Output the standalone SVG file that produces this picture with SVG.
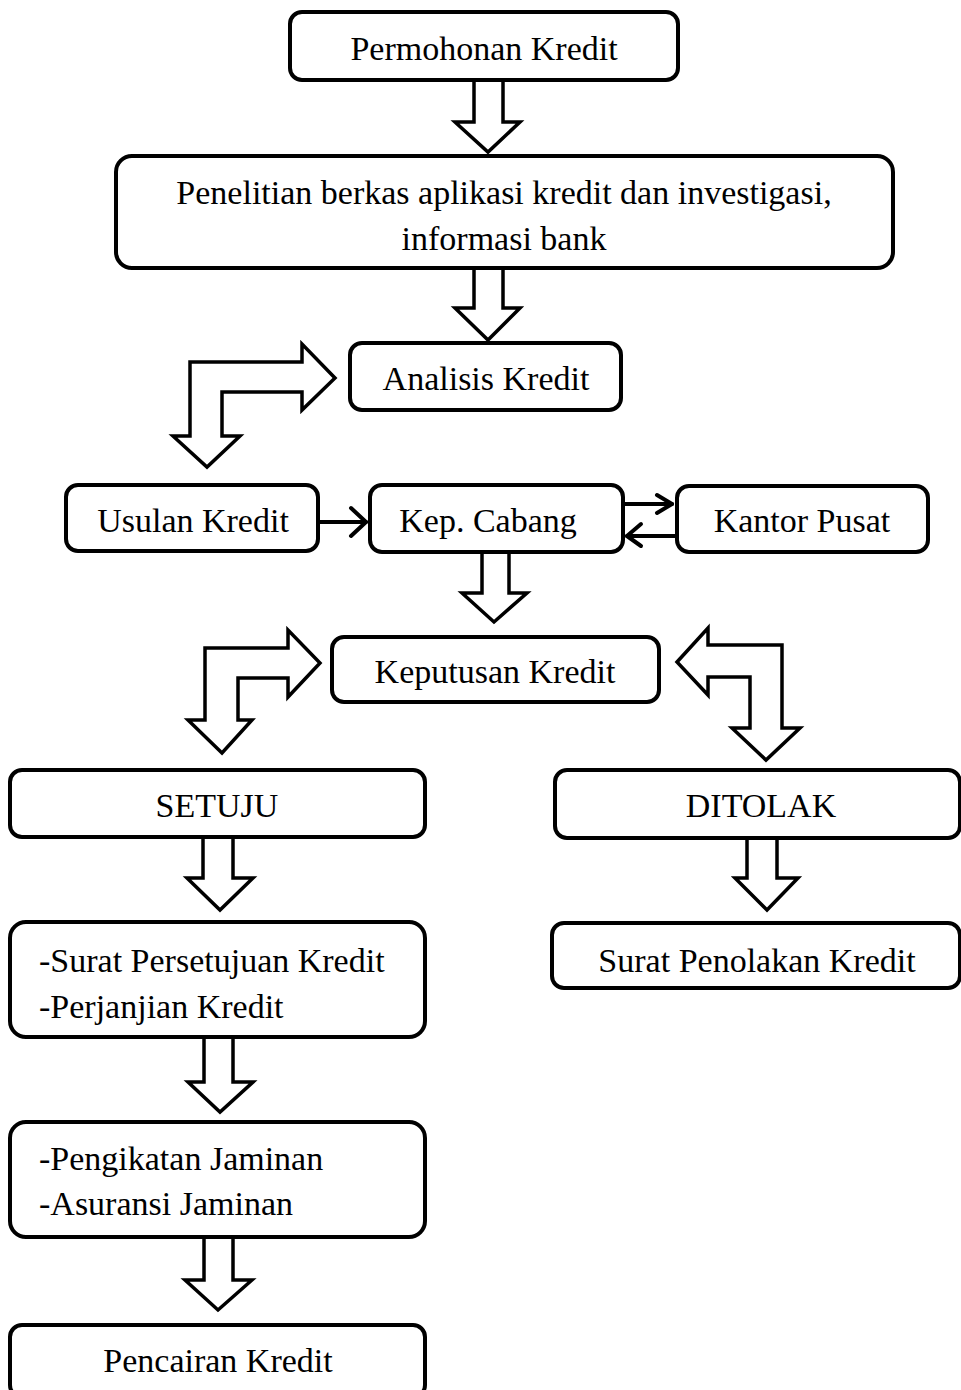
<svg xmlns="http://www.w3.org/2000/svg" width="961" height="1390" viewBox="0 0 961 1390">
<style>
.box{fill:#fff;stroke:#000;stroke-width:4}
.t{font-family:"Liberation Serif","Times New Roman",serif;font-size:34px;fill:#000}
.c{text-anchor:middle}
.blk{fill:#fff;stroke:#000;stroke-width:3.5;stroke-linejoin:miter}
.ln{fill:none;stroke:#000;stroke-width:4;stroke-linecap:round;stroke-linejoin:round}
</style>
<rect width="961" height="1390" fill="#fff"/>
<g id="connectors">
<polygon class="blk" points="474,80 503,80 503,122 520,122 488,152 455,122 474,122"/>
<polygon class="blk" points="474,268 503,268 503,308 520,308 488,340 455,308 474,308"/>
<polygon class="blk" points="190,362 302,362 302,344 335,378 302,410 302,392 222,392 222,436 240,436 207,467 173,436 190,436"/>
<polygon class="blk" points="482,552 509,552 509,593 527,593 494,622 462,593 482,593"/>
<polygon class="blk" points="205,648 288,648 288,630 320,663 288,697 288,678 238,678 238,720 252,720 222,753 188,720 205,720"/>
<polygon class="blk" points="677,662 708,628 708,645 782,645 782,728 800,728 766,760 732,728 750,728 750,677 708,677 708,695"/>
<polygon class="blk" points="203,837 233,837 233,878 253,878 220,910 187,878 203,878"/>
<polygon class="blk" points="747,838 777,838 777,878 798,878 767,910 735,878 747,878"/>
<polygon class="blk" points="204,1037 233,1037 233,1082 253,1082 220,1112 188,1082 204,1082"/>
<polygon class="blk" points="204,1237 233,1237 233,1280 252,1280 218,1310 185,1280 204,1280"/>
<line class="ln" x1="318" y1="522" x2="366" y2="522"/>
<polyline class="ln" points="351,508 366,522 351,536"/>
<line class="ln" x1="623" y1="504" x2="672" y2="504"/>
<polyline class="ln" points="657,495 672,504 657,513"/>
<line class="ln" x1="677" y1="536" x2="627" y2="536"/>
<polyline class="ln" points="641,524 627,536 641,546"/>
</g>
<g id="permohonan"><rect class="box" x="290" y="12" width="388" height="68" rx="12"/><text class="t c" x="484" y="60">Permohonan Kredit</text></g>
<g id="penelitian"><rect class="box" x="116" y="156" width="777" height="112" rx="16"/><text class="t c" x="504" y="204">Penelitian berkas aplikasi kredit dan investigasi,</text><text class="t c" x="504" y="250">informasi bank</text></g>
<g id="analisis"><rect class="box" x="350" y="343" width="271" height="67" rx="12"/><text class="t c" x="486" y="390">Analisis Kredit</text></g>
<g id="usulan"><rect class="box" x="66" y="485" width="252" height="66" rx="12"/><text class="t c" x="193" y="532">Usulan Kredit</text></g>
<g id="kepcabang"><rect class="box" x="370" y="485" width="253" height="67" rx="12"/><text class="t c" x="488" y="532">Kep. Cabang</text></g>
<g id="kantorpusat"><rect class="box" x="677" y="486" width="251" height="66" rx="12"/><text class="t c" x="802" y="532">Kantor Pusat</text></g>
<g id="keputusan"><rect class="box" x="332" y="637" width="327" height="65" rx="12"/><text class="t c" x="495" y="683">Keputusan Kredit</text></g>
<g id="setuju"><rect class="box" x="10" y="770" width="415" height="67" rx="12"/><text class="t c" x="217" y="817">SETUJU</text></g>
<g id="ditolak"><rect class="box" x="555" y="770" width="405" height="68" rx="12"/><text class="t c" x="761" y="817">DITOLAK</text></g>
<g id="persetujuan"><rect class="box" x="10" y="922" width="415" height="115" rx="16"/><text class="t" x="39" y="972">-Surat Persetujuan Kredit</text><text class="t" x="39" y="1018">-Perjanjian Kredit</text></g>
<g id="penolakan"><rect class="box" x="552" y="923" width="408" height="65" rx="12"/><text class="t c" x="757" y="972">Surat Penolakan Kredit</text></g>
<g id="pengikatan"><rect class="box" x="10" y="1122" width="415" height="115" rx="16"/><text class="t" x="39" y="1170">-Pengikatan Jaminan</text><text class="t" x="39" y="1215">-Asuransi Jaminan</text></g>
<g id="pencairan"><rect class="box" x="10" y="1325" width="415" height="72" rx="12"/><text class="t c" x="218" y="1372">Pencairan Kredit</text></g>
</svg>
